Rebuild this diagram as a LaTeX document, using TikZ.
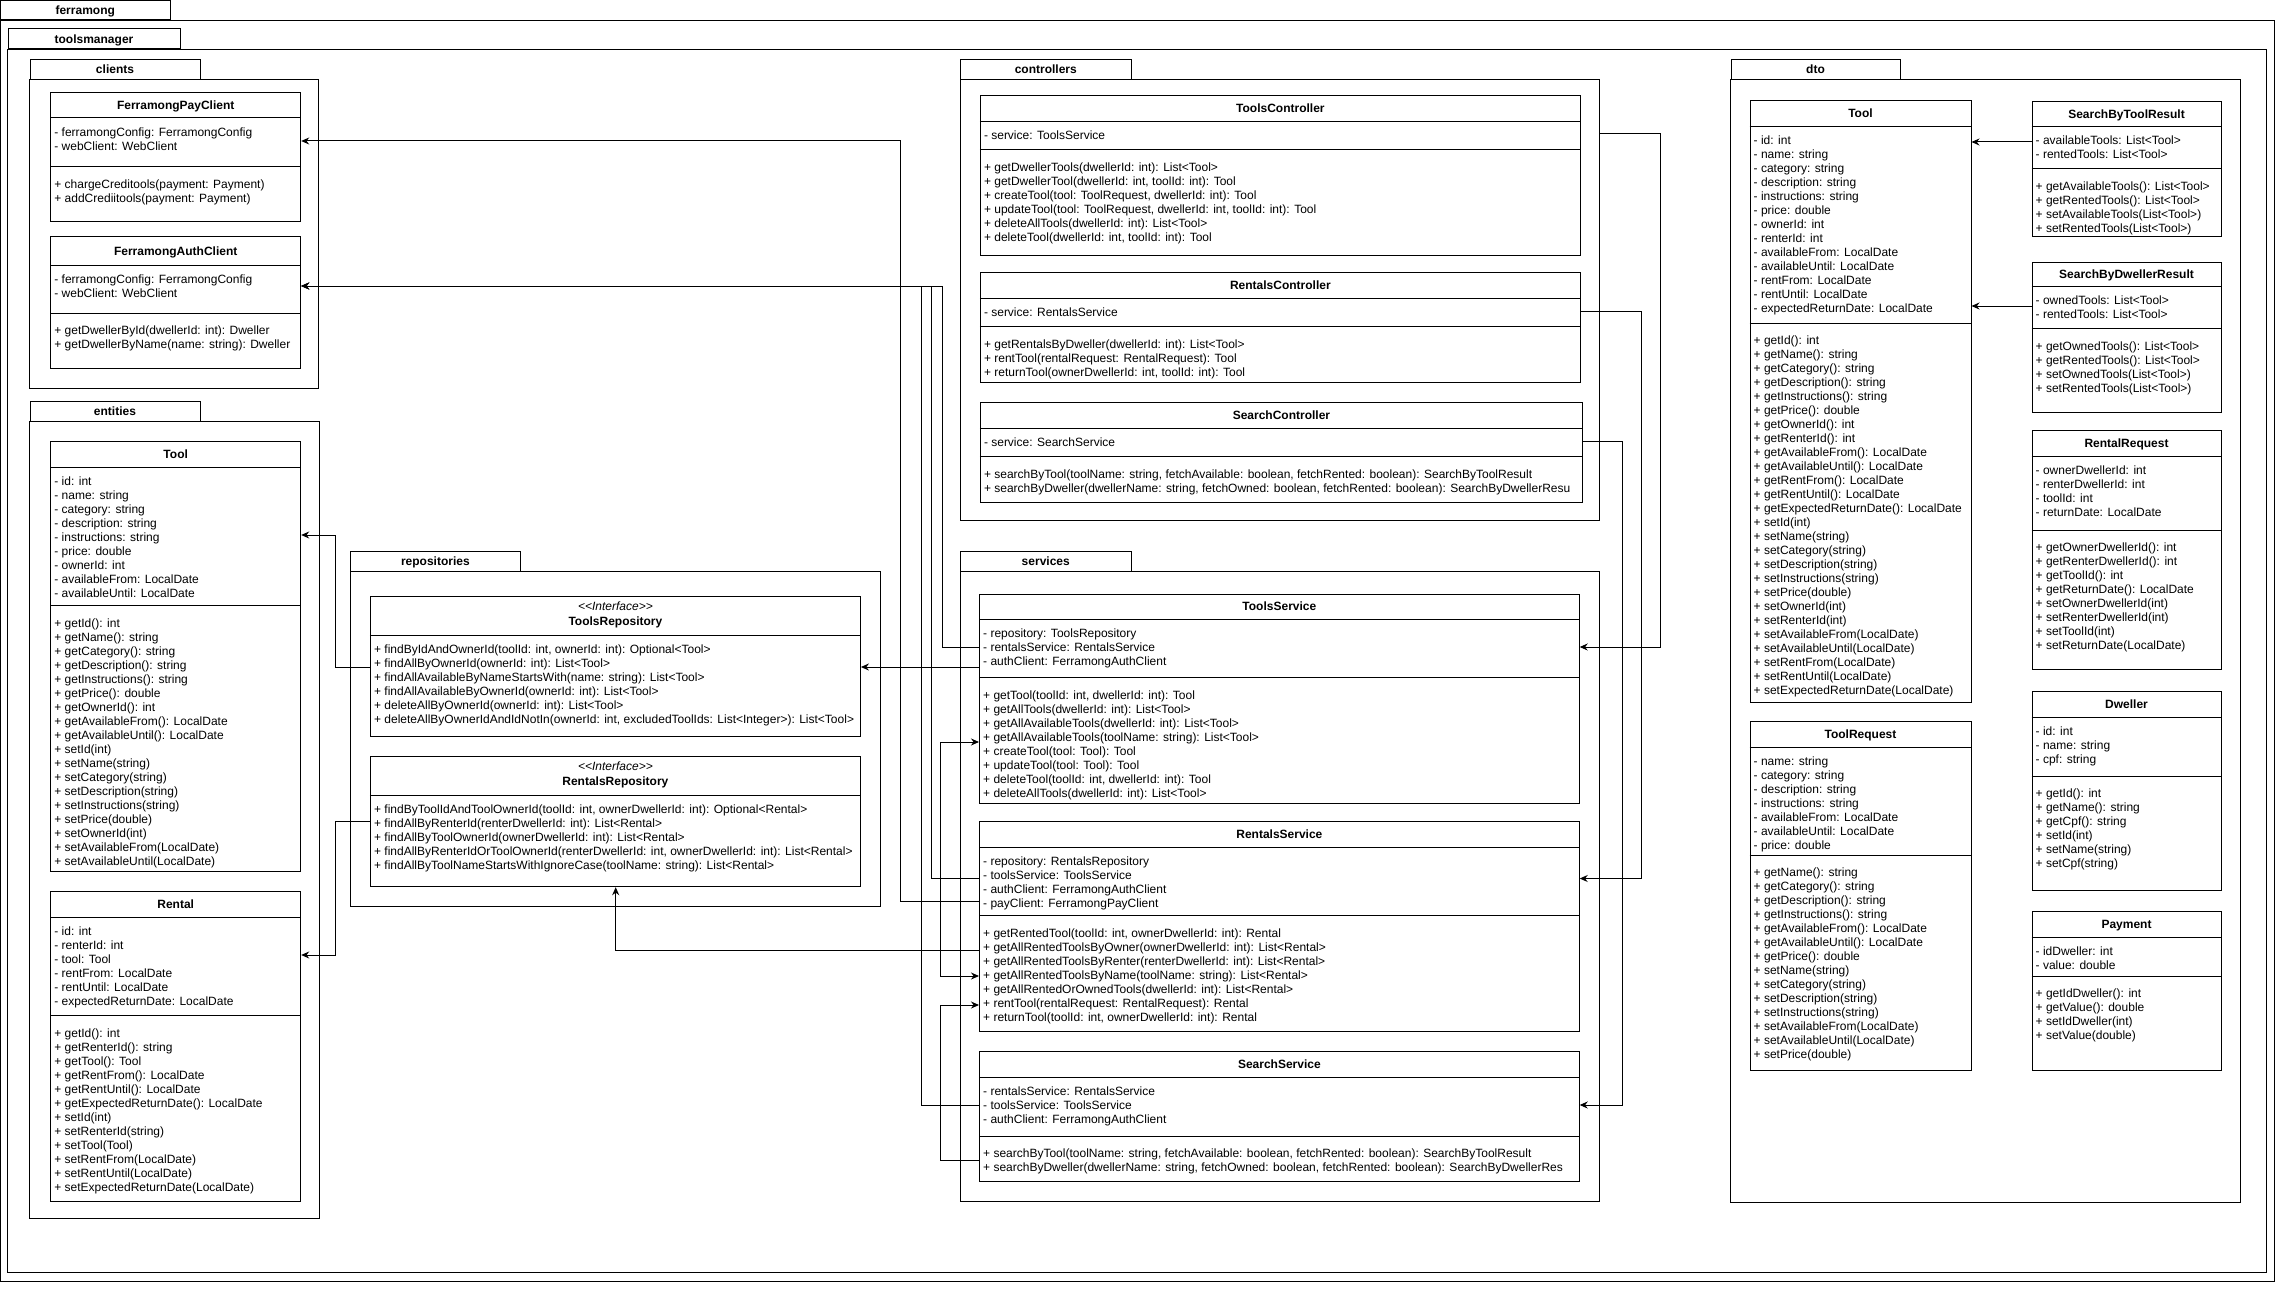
\documentclass[tikz,border=0pt]{standalone}
\usepackage{fontspec}
\setmainfont{Liberation Sans}
\usetikzlibrary{calc,fit,arrows.meta}

% package: name, tab NW, tab SE, body SE, label
\newcommand{\umlpackage}[5]{%
  \node[pkgbox, fit={(#2) (#3)}] (#1tab) {};
  \node[pkglabel] at (#1tab.center) {#5};
  \node[pkgbox, fit={(#1tab.south west) (#4)}] (#1) {};
}
% class: name, NW, SE, header y, divider y, title, attributes, methods
\newcommand{\umlclass}[8]{%
  \node[classbox, fit={(#2) (#3)}] (#1) {};
  \draw[sepline] (#1.west |- 0,#4) -- (#1.east |- 0,#4);
  \draw[sepline] (#1.west |- 0,#5) -- (#1.east |- 0,#5);
  \node[classname] at ($(#1.north)!0.5!(#1.north |- 0,#4)$) {#6};
  \node[members] at ($(#1.west |- 0,#4)+(4,9.3)$) {#7};
  \node[members] at ($(#1.west |- 0,#5)+(4,12.5)$) {#8};
}
% interface: name, NW, SE, header y, title, methods
\newcommand{\umliface}[6]{%
  \node[classbox, fit={(#2) (#3)}] (#1) {};
  \draw[sepline] (#1.west |- 0,#4) -- (#1.east |- 0,#4);
  \node[stereo] at ($(#1.north)+(0,10)$) {<\kern0pt<Interface>\kern0pt>};
  \node[classname] at ($(#1.north)+(0,25)$) {#5};
  \node[members] at ($(#1.west |- 0,#4)+(4,10)$) {#6};
}

\begin{document}
\begin{tikzpicture}[
  x=1pt, y=-1pt,
  pkgbox/.style={draw, line width=1pt, inner sep=0pt},
  pkglabel/.style={inner sep=0pt, font=\bfseries\fontsize{12}{14}\selectfont,
    text height=8.6pt, text depth=0pt},
  classbox/.style={draw, line width=1pt, inner sep=0pt},
  sepline/.style={line width=1pt},
  classname/.style={inner sep=0pt, font=\bfseries\fontsize{12}{14}\selectfont,
    text height=8.6pt, text depth=0pt},
  stereo/.style={inner sep=0pt, font=\itshape\fontsize{12}{14}\selectfont,
    text height=8.6pt, text depth=0pt},
  members/.style={anchor=north west, align=left, inner sep=0pt,
    font=\fontsize{12}{14}\selectfont},
  assoc/.style={-{Stealth[length=8pt,width=7pt]}, line width=1pt},
  biassoc/.style={{Stealth[length=8pt,width=7pt]}-{Stealth[length=8pt,width=7pt]}, line width=1pt}
]
  \useasboundingbox (0,0) rectangle (2281,1292);

  % packages
  \umlpackage{ferramong}{0.5,0.5}{170,20}{2274,1281}{ferramong}
  \umlpackage{toolsmgr}{8,29}{180,49}{2266,1272}{toolsmanager}
  \umlpackage{clients}{30,59.5}{200,79.5}{318,388}{clients}
  \umlpackage{entities}{30,401}{200,421}{319,1218}{entities}
  \umlpackage{repos}{350.7,551}{520,571}{880,906.7}{repositories}
  \umlpackage{ctrls}{960.5,59.5}{1131,79.5}{1599.4,520}{controllers}
  \umlpackage{svcs}{960.5,551}{1131,571}{1599.4,1201.7}{services}
  \umlpackage{dto}{1731,59.5}{1900,79.5}{2240,1202}{dto}

  % clients
  \umlclass{payclient}{50.7,93}{300.7,222}{118}{167}{FerramongPayClient}
    {- ferramongConfig: FerramongConfig\\- webClient: WebClient}
    {+ chargeCreditools(payment: Payment)\\+ addCrediitools(payment: Payment)}
  \umlclass{authclient}{50.7,237}{300.7,368}{265}{313}{FerramongAuthClient}
    {- ferramongConfig: FerramongConfig\\- webClient: WebClient}
    {+ getDwellerById(dwellerId: int): Dweller\\+ getDwellerByName(name: string): Dweller}

  % entities
  \umlclass{toolent}{50.7,441.7}{300.7,871}{467}{605.7}{Tool}
    {- id: int\\- name: string\\- category: string\\- description: string\\- instructions: string\\
     - price: double\\- ownerId: int\\- availableFrom: LocalDate\\- availableUntil: LocalDate}
    {+ getId(): int\\+ getName(): string\\+ getCategory(): string\\+ getDescription(): string\\
     + getInstructions(): string\\+ getPrice(): double\\+ getOwnerId(): int\\
     + getAvailableFrom(): LocalDate\\+ getAvailableUntil(): LocalDate\\+ setId(int)\\
     + setName(string)\\+ setCategory(string)\\+ setDescription(string)\\+ setInstructions(string)\\
     + setPrice(double)\\+ setOwnerId(int)\\+ setAvailableFrom(LocalDate)\\+ setAvailableUntil(LocalDate)}
  \umlclass{rentalent}{50.7,891.7}{300.7,1201.7}{917}{1015.7}{Rental}
    {- id: int\\- renterId: int\\- tool: Tool\\- rentFrom: LocalDate\\- rentUntil: LocalDate\\
     - expectedReturnDate: LocalDate}
    {+ getId(): int\\+ getRenterId(): string\\+ getTool(): Tool\\+ getRentFrom(): LocalDate\\
     + getRentUntil(): LocalDate\\+ getExpectedReturnDate(): LocalDate\\+ setId(int)\\
     + setRenterId(string)\\+ setTool(Tool)\\+ setRentFrom(LocalDate)\\+ setRentUntil(LocalDate)\\
     + setExpectedReturnDate(LocalDate)}

  % repositories
  \umliface{toolsrepo}{370.4,596.7}{860.4,736.7}{635}{ToolsRepository}
    {+ findByIdAndOwnerId(toolId: int, ownerId: int): Optional<Tool>\\
     + findAllByOwnerId(ownerId: int): List<Tool>\\
     + findAllAvailableByNameStartsWith(name: string): List<Tool>\\
     + findAllAvailableByOwnerId(ownerId: int): List<Tool>\\
     + deleteAllByOwnerId(ownerId: int): List<Tool>\\
     + deleteAllByOwnerIdAndIdNotIn(ownerId: int, excludedToolIds: List<Integer>): List<Tool>}
  \umliface{rentalsrepo}{370.4,756.7}{860.4,886.7}{795}{RentalsRepository}
    {+ findByToolIdAndToolOwnerId(toolId: int, ownerDwellerId: int): Optional<Rental>\\
     + findAllByRenterId(renterDwellerId: int): List<Rental>\\
     + findAllByToolOwnerId(ownerDwellerId: int): List<Rental>\\
     + findAllByRenterIdOrToolOwnerId(renterDwellerId: int, ownerDwellerId: int): List<Rental>\\
     + findAllByToolNameStartsWithIgnoreCase(toolName: string): List<Rental>}

  % controllers
  \umlclass{toolsctrl}{980.3,95.7}{1580.5,255.7}{121.7}{150}{ToolsController}
    {- service: ToolsService}
    {+ getDwellerTools(dwellerId: int): List<Tool>\\
     + getDwellerTool(dwellerId: int, toolId: int): Tool\\
     + createTool(tool: ToolRequest, dwellerId: int): Tool\\
     + updateTool(tool: ToolRequest, dwellerId: int, toolId: int): Tool\\
     + deleteAllTools(dwellerId: int): List<Tool>\\
     + deleteTool(dwellerId: int, toolId: int): Tool}
  \umlclass{rentalsctrl}{980.3,272.7}{1580.5,382.7}{298.7}{326.7}{RentalsController}
    {- service: RentalsService}
    {+ getRentalsByDweller(dwellerId: int): List<Tool>\\
     + rentTool(rentalRequest: RentalRequest): Tool\\
     + returnTool(ownerDwellerId: int, toolId: int): Tool}
  \umlclass{searchctrl}{980.3,402.7}{1582.6,502.7}{428.3}{456.7}{SearchController}
    {- service: SearchService}
    {+ searchByTool(toolName: string, fetchAvailable: boolean, fetchRented: boolean): SearchByToolResult\\
     + searchByDweller(dwellerName: string, fetchOwned: boolean, fetchRented: boolean): SearchByDwellerResu}

  % services
  \umlclass{toolssvc}{979.5,594}{1579.2,803.3}{619.3}{677.7}{ToolsService}
    {- repository: ToolsRepository\\- rentalsService: RentalsService\\- authClient: FerramongAuthClient}
    {+ getTool(toolId: int, dwellerId: int): Tool\\
     + getAllTools(dwellerId: int): List<Tool>\\
     + getAllAvailableTools(dwellerId: int): List<Tool>\\
     + getAllAvailableTools(toolName: string): List<Tool>\\
     + createTool(tool: Tool): Tool\\
     + updateTool(tool: Tool): Tool\\
     + deleteTool(toolId: int, dwellerId: int): Tool\\
     + deleteAllTools(dwellerId: int): List<Tool>}
  \umlclass{rentalssvc}{979.5,821.7}{1579.2,1031.7}{847.7}{915.7}{RentalsService}
    {- repository: RentalsRepository\\- toolsService: ToolsService\\
     - authClient: FerramongAuthClient\\- payClient: FerramongPayClient}
    {+ getRentedTool(toolId: int, ownerDwellerId: int): Rental\\
     + getAllRentedToolsByOwner(ownerDwellerId: int): List<Rental>\\
     + getAllRentedToolsByRenter(renterDwellerId: int): List<Rental>\\
     + getAllRentedToolsByName(toolName: string): List<Rental>\\
     + getAllRentedOrOwnedTools(dwellerId: int): List<Rental>\\
     + rentTool(rentalRequest: RentalRequest): Rental\\
     + returnTool(toolId: int, ownerDwellerId: int): Rental}
  \umlclass{searchsvc}{979.5,1051.7}{1579.2,1181.7}{1077.7}{1136}{SearchService}
    {- rentalsService: RentalsService\\- toolsService: ToolsService\\- authClient: FerramongAuthClient}
    {+ searchByTool(toolName: string, fetchAvailable: boolean, fetchRented: boolean): SearchByToolResult\\
     + searchByDweller(dwellerName: string, fetchOwned: boolean, fetchRented: boolean): SearchByDwellerRes}

  % dto
  \umlclass{tooldto}{1750,101}{1971,702}{126.6}{323}{Tool}
    {- id: int\\- name: string\\- category: string\\- description: string\\- instructions: string\\
     - price: double\\- ownerId: int\\- renterId: int\\- availableFrom: LocalDate\\
     - availableUntil: LocalDate\\- rentFrom: LocalDate\\- rentUntil: LocalDate\\
     - expectedReturnDate: LocalDate}
    {+ getId(): int\\+ getName(): string\\+ getCategory(): string\\+ getDescription(): string\\
     + getInstructions(): string\\+ getPrice(): double\\+ getOwnerId(): int\\+ getRenterId(): int\\
     + getAvailableFrom(): LocalDate\\+ getAvailableUntil(): LocalDate\\+ getRentFrom(): LocalDate\\
     + getRentUntil(): LocalDate\\+ getExpectedReturnDate(): LocalDate\\+ setId(int)\\
     + setName(string)\\+ setCategory(string)\\+ setDescription(string)\\+ setInstructions(string)\\
     + setPrice(double)\\+ setOwnerId(int)\\+ setRenterId(int)\\+ setAvailableFrom(LocalDate)\\
     + setAvailableUntil(LocalDate)\\+ setRentFrom(LocalDate)\\+ setRentUntil(LocalDate)\\
     + setExpectedReturnDate(LocalDate)}
  \umlclass{toolreq}{1750,721.5}{1971,1070.6}{747.5}{855}{ToolRequest}
    {- name: string\\- category: string\\- description: string\\- instructions: string\\
     - availableFrom: LocalDate\\- availableUntil: LocalDate\\- price: double}
    {+ getName(): string\\+ getCategory(): string\\+ getDescription(): string\\
     + getInstructions(): string\\+ getAvailableFrom(): LocalDate\\+ getAvailableUntil(): LocalDate\\
     + getPrice(): double\\+ setName(string)\\+ setCategory(string)\\+ setDescription(string)\\
     + setInstructions(string)\\+ setAvailableFrom(LocalDate)\\+ setAvailableUntil(LocalDate)\\
     + setPrice(double)}
  \umlclass{sbtresult}{2032,102}{2221,237}{126.6}{168.7}{SearchByToolResult}
    {- availableTools: List<Tool>\\- rentedTools: List<Tool>}
    {+ getAvailableTools(): List<Tool>\\+ getRentedTools(): List<Tool>\\
     + setAvailableTools(List<Tool>)\\+ setRentedTools(List<Tool>)}
  \umlclass{sbdresult}{2032,262}{2221,412}{286.6}{328.8}{SearchByDwellerResult}
    {- ownedTools: List<Tool>\\- rentedTools: List<Tool>}
    {+ getOwnedTools(): List<Tool>\\+ getRentedTools(): List<Tool>\\
     + setOwnedTools(List<Tool>)\\+ setRentedTools(List<Tool>)}
  \umlclass{rentalreq}{2032,430.6}{2221,669}{456.8}{530}{RentalRequest}
    {- ownerDwellerId: int\\- renterDwellerId: int\\- toolId: int\\- returnDate: LocalDate}
    {+ getOwnerDwellerId(): int\\+ getRenterDwellerId(): int\\+ getToolId(): int\\
     + getReturnDate(): LocalDate\\+ setOwnerDwellerId(int)\\+ setRenterDwellerId(int)\\
     + setToolId(int)\\+ setReturnDate(LocalDate)}
  \umlclass{dweller}{2032,691}{2221,890}{717}{776}{Dweller}
    {- id: int\\- name: string\\- cpf: string}
    {+ getId(): int\\+ getName(): string\\+ getCpf(): string\\+ setId(int)\\
     + setName(string)\\+ setCpf(string)}
  \umlclass{payment}{2032,911}{2221,1070.6}{937}{976}{Payment}
    {- idDweller: int\\- value: double}
    {+ getIdDweller(): int\\+ getValue(): double\\+ setIdDweller(int)\\+ setValue(double)}

  % services -> clients
  \draw[assoc] (toolssvc.west |- 0,647) -| (942,286) -- (authclient.east |- 0,286);
  \draw[assoc] (rentalssvc.west |- 0,878.5) -| (931,286) -- (authclient.east |- 0,286);
  \draw[assoc] (searchsvc.west |- 0,1105) -| (921,286) -- (authclient.east |- 0,286);
  \draw[assoc] (rentalssvc.west |- 0,901) -| (900.7,141) -- (payclient.east |- 0,141);
  % services -> repositories
  \draw[assoc] (toolssvc.west |- 0,667) -- (toolsrepo.east |- 0,667);
  \draw[assoc] (rentalssvc.west |- 0,950) -| (rentalsrepo.south -| 615.7,0);
  % repositories -> entities
  \draw[assoc] (toolsrepo.west |- 0,667.7) -| (335,535) -- (toolent.east |- 0,535);
  \draw[assoc] (rentalsrepo.west |- 0,821) -| (335,955) -- (rentalent.east |- 0,955);
  % services <-> services
  \draw[biassoc] (toolssvc.west |- 0,742) -| (940,976) -- (rentalssvc.west |- 0,976);
  \draw[assoc] (searchsvc.west |- 0,1160) -| (940,1005) -- (rentalssvc.west |- 0,1005);
  % controllers -> services
  \draw[assoc] (ctrls.east |- 0,134) -| (1660,647) -- (toolssvc.east |- 0,647);
  \draw[assoc] (rentalsctrl.east |- 0,311) -| (1641,878.5) -- (rentalssvc.east |- 0,878.5);
  \draw[assoc] (searchctrl.east |- 0,441) -| (1622,1105) -- (searchsvc.east |- 0,1105);
  % dto
  \draw[assoc] (sbtresult.west |- 0,142) -- (tooldto.east |- 0,142);
  \draw[assoc] (sbdresult.west |- 0,306) -- (tooldto.east |- 0,306);
\end{tikzpicture}
\end{document}
